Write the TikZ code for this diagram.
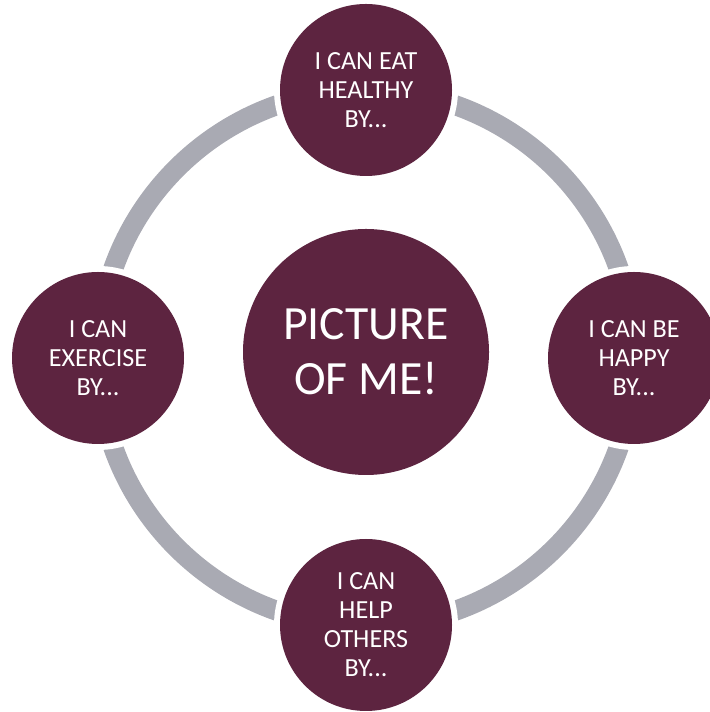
\documentclass[tikz,border=0pt]{standalone}
\usepackage{fontspec}
\setmainfont{Carlito}
\definecolor{wine}{HTML}{5D2440}
\definecolor{ringgrey}{HTML}{A9AAB3}
\begin{document}
\begin{tikzpicture}[x=0.75pt,y=0.75pt,
    goal/.style={circle,fill=wine,text=white,align=center,inner sep=0pt,
        minimum size=129pt,preaction={draw=white,line width=9pt},
        font=\fontsize{19.6}{21.8}\selectfont},
    me/.style={circle,fill=wine,text=white,align=center,inner sep=0pt,
        minimum size=184.5pt,font=\fontsize{35.8}{41}\selectfont}]
    \useasboundingbox (0,0) rectangle (709,712);
    % grey ring behind the four goals
    \coordinate (hub) at (366,354);
    \draw[ringgrey,line width=15pt] (hub) circle (268);

    \node[me] (picture) at (366,360) {PICTURE\\OF ME!};

    \node[goal] (eat) at (366,622) {I CAN EAT\\HEALTHY\\BY...};
    \node[goal] (happy) at (634,354) {I CAN BE\\HAPPY\\BY...};
    \node[goal] (help) at (366,87) {I CAN\\HELP\\OTHERS\\BY...};
    \node[goal] (exercise) at (98,354) {I CAN\\EXERCISE\\BY...};
\end{tikzpicture}
\end{document}
